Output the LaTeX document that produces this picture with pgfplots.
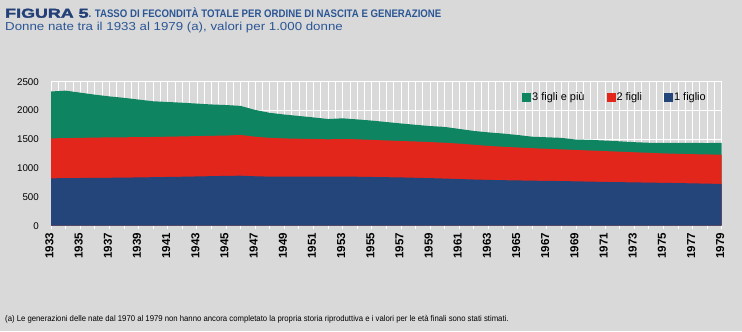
\documentclass[border=0pt]{standalone}
\usepackage{pgfplots}
\pgfplotsset{compat=1.18}
\usepackage{pgfplotstable}
\usepackage{fontspec}
\setmainfont{Liberation Sans}
\newfontfamily\heavy[FakeBold=2]{Liberation Sans Bold}
\definecolor{bg}{HTML}{D9D9D9}
\definecolor{cgreen}{HTML}{0F8461}
\definecolor{cred}{HTML}{E2261B}
\definecolor{cblue}{HTML}{23457A}
\definecolor{tdark}{HTML}{233F78}
\definecolor{tblue}{HTML}{2B5695}

\pgfplotstableread{
year one two total
1933 823 1517 2330
1934 825 1520 2345
1935 828 1525 2310
1936 830 1530 2275
1937 832 1533 2245
1938 835 1535 2220
1939 838 1537 2190
1940 842 1540 2160
1941 846 1545 2148
1942 850 1550 2135
1943 855 1555 2120
1944 860 1560 2105
1945 865 1565 2095
1946 868 1575 2080
1947 858 1545 2010
1948 852 1525 1960
1949 850 1515 1930
1950 850 1510 1905
1951 851 1505 1880
1952 851 1500 1852
1953 852 1505 1864
1954 850 1500 1845
1955 846 1490 1825
1956 842 1480 1800
1957 838 1470 1775
1958 832 1462 1752
1959 826 1452 1730
1960 818 1440 1715
1961 810 1425 1680
1962 802 1405 1645
1963 795 1385 1620
1964 790 1370 1600
1965 786 1358 1575
1966 782 1345 1545
1967 778 1335 1535
1968 775 1325 1525
1969 770 1315 1495
1970 765 1305 1490
1971 760 1295 1478
1972 756 1285 1465
1973 752 1275 1450
1974 748 1265 1440
1975 744 1255 1440
1976 740 1248 1440
1977 735 1242 1438
1978 730 1237 1435
1979 725 1233 1440
}\data

\begin{document}
\begin{tikzpicture}[x=1bp,y=1bp]
\fill[bg] (0,0) rectangle (742,331);
\node[anchor=base west, inner sep=0pt] at (5,313.3)
  {{\fontsize{13}{14}\heavy\color{tdark}\scalebox{1.38}[1]{FIGURA 5}}{\fontsize{11}{12}\bfseries\color{tblue}\scalebox{0.88}[1]{. TASSO DI FECONDITÀ TOTALE PER ORDINE DI NASCITA E GENERAZIONE}}};
\node[anchor=base west, inner sep=0pt, font=\fontsize{11.6}{12}\selectfont, text=tblue] at (5,301)
  {\scalebox{1.15}[1]{Donne nate tra il 1933 al 1979 (a), valori per 1.000 donne}};
\node[anchor=base west, inner sep=0pt, font=\fontsize{8.4}{9}\selectfont] at (5,10)
  {\scalebox{0.925}[1]{(a) Le generazioni delle nate dal 1970 al 1979 non hanno ancora completato la propria storia riproduttiva e i valori per le età finali sono stati stimati.}};
\begin{axis}[
  at={(51bp,105.3bp)}, anchor=south west,
  scale only axis, width=670.7bp, height=144bp,
  xmin=1933, xmax=1979, ymin=0, ymax=2500,
  axis lines*=left,
  y axis line style={draw=none},
  x axis line style={white, line width=1pt},
  xtick={1933,1935,...,1979},
  extra x ticks={1934,1936,...,1978},
  extra x tick labels={},
  extra x tick style={grid=major},
  minor xtick={1933.5,1934.5,...,1978.5},
  minor tick length=0pt,
  major tick length=3bp,
  tick align=outside,
  x tick style={white, line width=0.8pt},
  y tick style={draw=none},
  ytick={0,500,...,2500},
  xmajorgrids, xminorgrids, ymajorgrids,
  grid style={white, line width=0.6pt},
  minor grid style={white, line width=0.6pt},
  /pgf/number format/.cd, 1000 sep={}, assume math mode=true,
  /pgfplots/.cd,
  x tick label style={rotate=90, anchor=east, font=\bfseries\fontsize{11.6}{12}\selectfont, inner sep=0pt, xshift=-4bp, yshift=1.5bp},
  y tick label style={font=\fontsize{9.8}{10}\selectfont, inner sep=0pt, xshift=-9bp},
  legend columns=3,
  legend style={draw=none, fill=none, inner sep=0pt, at={(rel axis cs:0.978,0.935)}, anchor=north east,
    font=\fontsize{11}{12}\selectfont,
    nodes={inner sep=1bp},
    /tikz/every even column/.append style={column sep=21bp}},
  legend image code/.code={\fill[#1] (0pt,-4.5pt) rectangle (9pt,4.5pt);},
]
\addplot[fill=cgreen, draw=none] table[x=year, y=total]{\data} \closedcycle;
\addlegendentry{3 figli e più}
\addplot[fill=cred, draw=none] table[x=year, y=two]{\data} \closedcycle;
\addlegendentry{2 figli}
\addplot[fill=cblue, draw=none] table[x=year, y=one]{\data} \closedcycle;
\addlegendentry{1 figlio}
\end{axis}
\end{tikzpicture}
\end{document}
